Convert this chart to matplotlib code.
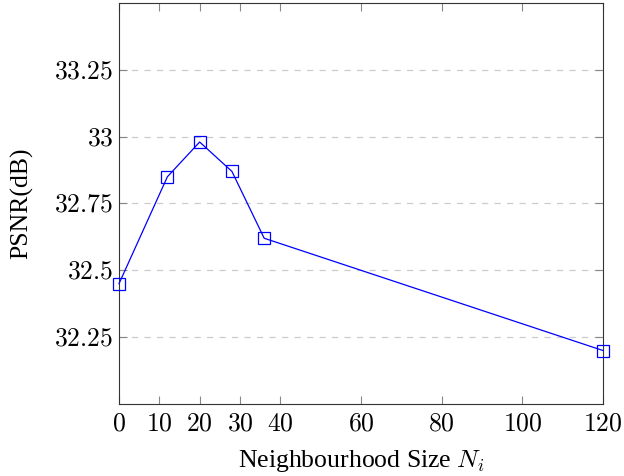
import numpy as np
import matplotlib
matplotlib.use('Agg')
import matplotlib.pyplot as plt
from matplotlib.ticker import FixedLocator, FixedFormatter

# data
sizes = [0, 12, 20, 28, 36, 120]
psnr = [32.45, 32.85, 32.98, 32.87, 32.62, 32.2]
x_ticks = [0, 10, 20, 30, 40, 60, 80, 100, 120]
y_ticks = [32.25, 32.5, 32.75, 33, 33.25]
y_tick_labels = ['32.25', '32.5', '32.75', '33', '33.25']

plt.rcParams['font.family'] = ['Liberation Serif', 'DejaVu Serif']
plt.rcParams['mathtext.fontset'] = 'cm'

fig = plt.figure(figsize=(6.24, 4.76), dpi=100)
ax = fig.add_axes([0.1907, 0.1513, 0.7756, 0.8424])

ax.plot(sizes, psnr, color='blue', lw=0.9, marker='s', markersize=8.5,
        markerfacecolor='none', markeredgecolor='blue', markeredgewidth=0.9,
        clip_on=False, zorder=3)

ax.set_xlim(0, 120)
ax.set_ylim(32.0, 33.5)

ax.xaxis.set_major_locator(FixedLocator(x_ticks))
ax.xaxis.set_major_formatter(FixedFormatter(['$%d$' % t for t in x_ticks]))
ax.yaxis.set_major_locator(FixedLocator(y_ticks))
ax.yaxis.set_major_formatter(FixedFormatter(['$%s$' % s for s in y_tick_labels]))

ax.yaxis.grid(True, color='#cccccc', linestyle=(0, (5, 5)), linewidth=0.9)
ax.set_axisbelow(True)

ax.tick_params(direction='in', length=6, width=0.8, color='#888888',
               top=True, right=True, labelsize=18.5)
ax.tick_params(axis='x', pad=7)
ax.tick_params(axis='y', pad=4)
for s in ax.spines.values():
    s.set_linewidth(0.8)
    s.set_color('#333333')

ax.set_xlabel('Neighbourhood Size $N_i$', fontsize=18.5, labelpad=9)
ax.set_ylabel('PSNR(dB)', fontsize=18.5, labelpad=15)

fig.savefig('out.png', dpi=100)
